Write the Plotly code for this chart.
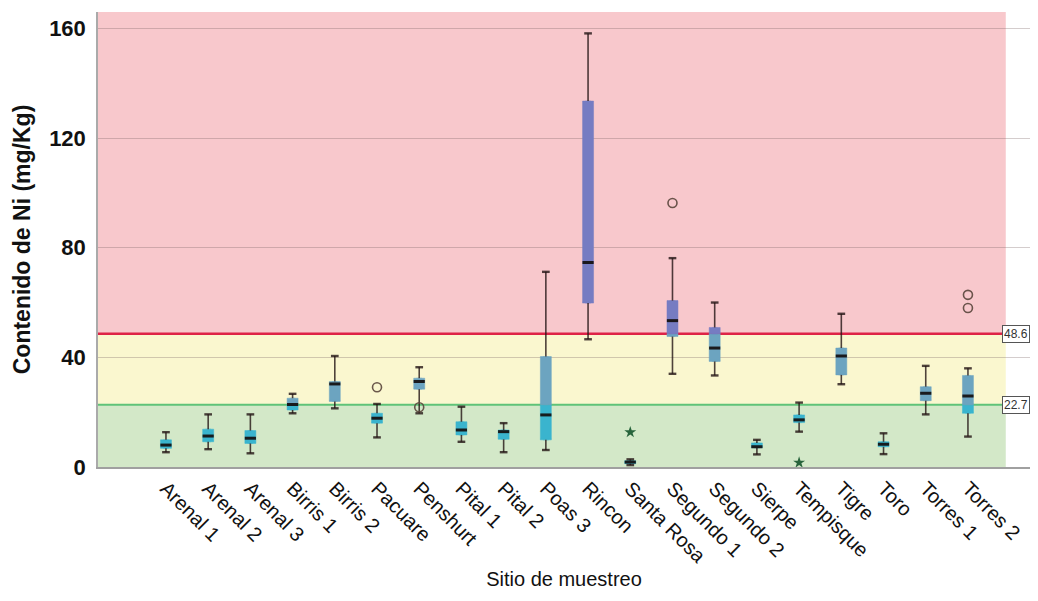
import plotly.graph_objects as go
import numpy as np

# ---------------- data ----------------
cats = ["Arenal 1", "Arenal 2", "Arenal 3", "Birris 1", "Birris 2", "Pacuare",
        "Penshurt", "Pital 1", "Pital 2", "Poas 3", "Rincon", "Santa Rosa",
        "Segundo 1", "Segundo 2", "Sierpe", "Tempisque", "Tigre", "Toro",
        "Torres 1", "Torres 2"]
lower = [5.4, 6.5, 5.0, 19.6, 21.4, 10.8, 19.6, 9.2, 5.4, 6.2, 46.6, 0.7,
         34.0, 33.4, 4.6, 12.9, 30.2, 4.7, 19.2, 11.1]
q1 = [6.8, 9.2, 8.6, 20.8, 23.9, 16.0, 28.4, 11.7, 10.1, 9.9, 59.8, 1.2,
      47.6, 38.5, 7.0, 16.2, 33.6, 7.4, 24.2, 19.6]
median = [8.0, 11.3, 10.5, 22.8, 30.3, 17.8, 31.2, 13.5, 12.9, 19.0, 74.6, 1.8,
          53.4, 43.4, 7.4, 17.2, 40.5, 8.3, 26.9, 25.9]
q3 = [9.9, 13.8, 13.3, 25.1, 31.2, 19.6, 32.4, 16.5, 13.5, 40.3, 133.5, 2.3,
      60.7, 50.9, 8.8, 19.0, 43.4, 9.2, 29.3, 33.4]
upper = [12.7, 19.2, 19.2, 26.7, 40.5, 23.0, 36.4, 22.0, 16.0, 71.2, 158.2, 2.8,
         76.2, 60.0, 9.9, 23.5, 55.9, 12.3, 36.9, 36.0]

circle_x = ["Pacuare", "Penshurt", "Segundo 1", "Torres 2", "Torres 2"]
circle_y = [29.1, 21.8, 96.3, 62.8, 58.0]
star_x = ["Santa Rosa", "Tempisque"]
star_y = [12.7, 1.6]

limit_high = 48.6
limit_low = 22.7
y_top = 166

yticks = [0, 40, 80, 120, 160]

# ---------------- styling ----------------
FONT = "Liberation Sans, Arial, sans-serif"
band_colors = {"green": "rgb(211,232,200)", "yellow": "rgb(250,247,207)", "red": "rgb(248,200,204)"}
box_colors = {"green": "rgb(58,180,206)", "yellow": "rgb(108,164,192)", "red": "rgb(118,124,194)"}
bands = [("green", 0, limit_low), ("yellow", limit_low, limit_high), ("red", limit_high, y_top)]
whisk_col = "rgba(35,20,20,0.8)"

fig = go.Figure()

# whisker lines (built from data arrays)
wx, wy = [], []
for c, lo, a, b, hi in zip(cats, lower, q1, q3, upper):
    wx += [c, c, None, c, c, None]
    wy += [lo, a, None, b, hi, None]
fig.add_trace(go.Scatter(x=wx, y=wy, mode="lines", line=dict(color=whisk_col, width=1.6),
                         hoverinfo="skip", showlegend=False))
# whisker caps
fig.add_trace(go.Scatter(x=cats + cats, y=lower + upper, mode="markers",
                         marker=dict(symbol="line-ew", size=5.5, line=dict(color=whisk_col, width=2.4)),
                         hoverinfo="skip", showlegend=False))

# box bodies, coloured per threshold band
q1a, q3a = np.array(q1), np.array(q3)
for name, lo, hi in bands:
    a = np.clip(q1a, lo, hi)
    b = np.clip(q3a, lo, hi)
    keep = b > a
    if not keep.any():
        continue
    xs = [c for c, k in zip(cats, keep) if k]
    fig.add_trace(go.Box(x=xs, q1=a[keep], median=a[keep], q3=b[keep],
                         lowerfence=a[keep], upperfence=b[keep],
                         fillcolor=box_colors[name], line=dict(color=box_colors[name], width=0.5),
                         width=0.26, boxpoints=False, hoverinfo="skip", showlegend=False))

# medians
fig.add_trace(go.Scatter(x=cats, y=median, mode="markers",
                         marker=dict(symbol="line-ew", size=8, line=dict(color="rgba(20,15,15,0.92)", width=3)),
                         hoverinfo="skip", showlegend=False))
# outliers
fig.add_trace(go.Scatter(x=circle_x, y=circle_y, mode="markers",
                         marker=dict(symbol="circle-open", size=9, color="rgba(90,70,60,0.9)",
                                     line=dict(width=1.6)),
                         hoverinfo="skip", showlegend=False))
fig.add_trace(go.Scatter(x=star_x, y=star_y, mode="markers",
                         marker=dict(symbol="star", size=9, color="rgb(40,100,60)"),
                         hoverinfo="skip", showlegend=False))

# background bands
band_right = 0.974
for name, lo, hi in bands:
    fig.add_shape(type="rect", xref="paper", yref="y", x0=0, x1=band_right, y0=lo, y1=hi,
                  fillcolor=band_colors[name], line=dict(width=0), layer="below")
# threshold lines
line_right = 0.979
fig.add_shape(type="line", xref="paper", yref="y", x0=0, x1=line_right, y0=limit_high, y1=limit_high,
              line=dict(color="rgb(222,35,70)", width=2.5), layer="between")
fig.add_shape(type="line", xref="paper", yref="y", x0=0, x1=line_right, y0=limit_low, y1=limit_low,
              line=dict(color="rgb(95,195,120)", width=2), layer="between")
for v in (limit_high, limit_low):
    fig.add_annotation(x=1.0, xref="paper", xanchor="right", y=v, yref="y", text=f"{v}",
                       showarrow=False,
                       font=dict(family=FONT, size=12, color="#333"), bgcolor="white",
                       bordercolor="#555", borderwidth=1, borderpad=1)

# the page body has an 8px margin, so the figure is sized to fit inside the window
fig.update_layout(
    width=1022, height=585,
    margin=dict(l=90, r=0, t=4, b=126),
    paper_bgcolor="white", plot_bgcolor="white",
    boxmode="overlay",
    showlegend=False,
    font=dict(family=FONT, color="#111"),
)
fig.update_xaxes(type="category", categoryorder="array", categoryarray=cats,
                 range=[-1.61, 20.47], tickangle=45, showgrid=False,
                 tickfont=dict(family=FONT, size=20, color="#111"),
                 showline=True, linecolor="rgb(160,160,160)", linewidth=2, ticks="",
                 title=dict(text="Sitio de muestreo", font=dict(family=FONT, size=20, color="#111"),
                            standoff=6),
                 automargin=False)
fig.update_yaxes(range=[0, y_top], tickvals=yticks, showgrid=True,
                 gridcolor="rgba(120,100,100,0.32)", gridwidth=1, zeroline=False,
                 tickfont=dict(family=FONT, size=22, color="#111", weight="bold"),
                 showline=True, linecolor="rgb(170,170,170)", linewidth=1.5, ticks="",
                 ticklabelstandoff=6,
                 title=dict(text="Contenido de Ni (mg/Kg)",
                            font=dict(family=FONT, size=23, color="#111", weight="bold"),
                            standoff=12),
                 automargin=False)

fig.write_html("out.html")
